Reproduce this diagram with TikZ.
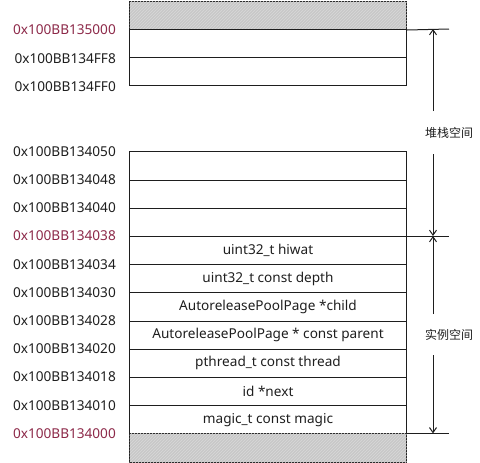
\documentclass[tikz,border=0pt]{standalone}
\usepackage{fontspec}
\setmainfont{Noto Sans}
\newfontfamily\cjk{Noto Sans CJK SC}
\usetikzlibrary{arrows.meta,patterns}
\definecolor{addrred}{RGB}{140,40,72}
\definecolor{hatchgray}{RGB}{200,200,200}
\definecolor{txt}{RGB}{30,30,30}
\begin{document}
\begin{tikzpicture}[x=1pt,y=-1pt,
  cell/.style={draw=txt, line width=1pt, minimum width=277pt, minimum height=28.2pt,
    inner sep=0pt, anchor=north west, text=txt, font=\fontsize{13.6}{16}\selectfont},
  grayc/.style={cell, fill=hatchgray, postaction={pattern=north east lines, pattern color=hatchgray!70!white}},
  addr/.style={anchor=east, inner sep=0pt, text=txt, font=\fontsize{13.6}{16}\selectfont},
  red/.style={text=addrred},
  side/.style={inner sep=0pt, text=txt, font=\cjk\fontsize{12}{14}\selectfont},
  ext/.style={draw=txt, line width=1pt},
  arr/.style={draw=txt, line width=1pt, -{Straight Barb[length=5pt,width=7pt]}}]
\useasboundingbox (0,0) rectangle (480,463);
% top section
\node[grayc] (g1) at (129,0.8) {};
\node[cell] (s1) at (129,29) {};
\node[cell] (s2) at (129,57.2) {};
% middle section
\node[cell] (m1) at (129,151.4) {};
\node[cell] (m2) at (129,179.6) {};
\node[cell] (m3) at (129,207.8) {};
% struct fields
\node[cell] (f1) at (129,236) {uint32\_t hiwat};
\node[cell] (f2) at (129,264.2) {uint32\_t const depth};
\node[cell] (f3) at (129,292.4) {AutoreleasePoolPage *child};
\node[cell] (f4) at (129,320.6) {AutoreleasePoolPage * const parent};
\node[cell] (f5) at (129,348.8) {pthread\_t const thread};
\node[cell] (f6) at (129,377) {id *next};
\node[cell] (f7) at (129,405.2) {magic\_t const magic};
\node[grayc] (g2) at (129,433.4) {};
% addresses
\node[addr,red] (a1) at (116,30) {0x100BB135000};
\node[addr] (a2) at (116,58.2) {0x100BB134FF8};
\node[addr] (a3) at (116,86.4) {0x100BB134FF0};
\node[addr] (a4) at (116,151.4) {0x100BB134050};
\node[addr] (a5) at (116,179.6) {0x100BB134048};
\node[addr] (a6) at (116,207.8) {0x100BB134040};
\node[addr,red] (a7) at (116,236) {0x100BB134038};
\node[addr] (a8) at (116,264.2) {0x100BB134034};
\node[addr] (a9) at (116,292.4) {0x100BB134030};
\node[addr] (a10) at (116,320.6) {0x100BB134028};
\node[addr] (a11) at (116,348.8) {0x100BB134020};
\node[addr] (a12) at (116,377) {0x100BB134018};
\node[addr] (a13) at (116,405.2) {0x100BB134010};
\node[addr,red] (a14) at (116,433.4) {0x100BB134000};
% extension lines
\coordinate (e1) at (449,29);
\coordinate (e2) at (449,236);
\coordinate (e3) at (449,433.4);
\draw[ext] (g1.south east) -- (e1);
\draw[ext] (f1.north east) -- (e2);
\draw[ext] (g2.north east) -- (e3);
% side labels and arrows
\node[side] (stk) at (449,133) {堆栈空间};
\node[side] (ins) at (449,335) {实例空间};
\coordinate (u1) at (433,29);
\coordinate (u2) at (433,111);
\coordinate (u3) at (433,154);
\coordinate (u4) at (433,236);
\coordinate (l1) at (433,236);
\coordinate (l2) at (433,314);
\coordinate (l3) at (433,355);
\coordinate (l4) at (433,433.4);
\draw[arr] (u2) -- (u1);
\draw[arr] (u3) -- (u4);
\draw[arr] (l2) -- (l1);
\draw[arr] (l3) -- (l4);
\end{tikzpicture}
\end{document}
